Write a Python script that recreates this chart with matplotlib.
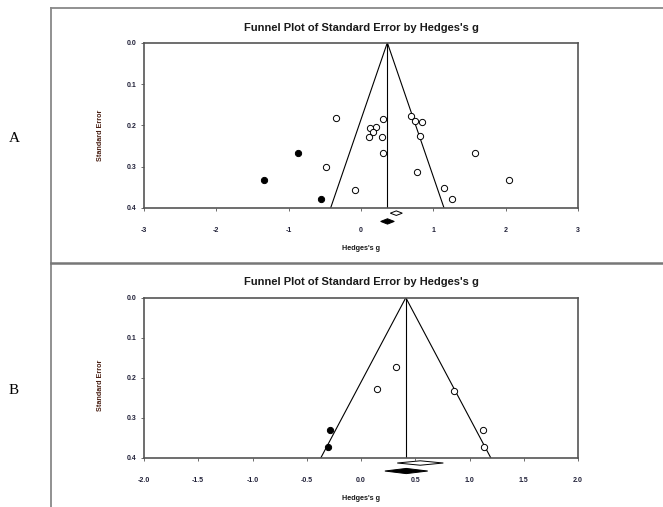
import numpy as np
import matplotlib
matplotlib.use("Agg")
import matplotlib.pyplot as plt
from matplotlib.lines import Line2D
from matplotlib.patches import Polygon

# Panel A: observed studies (open) and imputed studies (filled)
A_g_open = [-0.35, 0.31, 0.69, 0.74, 0.84, 0.21, 0.12, 0.17, 0.11, 0.29,
            0.82, 0.31, 1.58, -0.49, 0.78, 2.05, -0.08, 1.15, 1.26]
A_se_open = [0.183, 0.185, 0.177, 0.189, 0.192, 0.204, 0.207, 0.217, 0.229, 0.229,
             0.225, 0.267, 0.267, 0.300, 0.312, 0.333, 0.357, 0.352, 0.378]
A_g_fill = [-0.87, -1.34, -0.55]
A_se_fill = [0.267, 0.333, 0.378]
A_center = 0.364
A_obs_ci = [0.405, 0.488, 0.571]
A_adj_ci = [0.272, 0.366, 0.46]
A_xticks = [-3, -2, -1, 0, 1, 2, 3]

# Panel B
B_g_open = [0.32, 0.15, 0.86, 1.12, 1.13]
B_se_open = [0.173, 0.228, 0.232, 0.331, 0.372]
B_g_fill = [-0.29, -0.30]
B_se_fill = [0.331, 0.372]
B_center = 0.413
B_obs_ci = [0.334, 0.546, 0.759]
B_adj_ci = [0.22, 0.417, 0.615]
B_xticks = [-2.0, -1.5, -1.0, -0.5, 0.0, 0.5, 1.0, 1.5, 2.0]

yticks = [0.0, 0.1, 0.2, 0.3, 0.4]
title = "Funnel Plot of Standard Error by Hedges's g"

plt.rcParams['font.family'] = ['Liberation Sans', 'DejaVu Sans']
W, H = 663, 507
fig = plt.figure(figsize=(W / 100, H / 100), dpi=100)
fig.patch.set_facecolor('white')

tick_col = '#202038'


def px(x, y):
    return x / W, 1 - y / H


def diamond(ax, ci, y, h, filled):
    lo, mid, hi = ci
    pts = [(lo, y), (mid, y - h), (hi, y), (mid, y + h)]
    poly = Polygon(pts, closed=True, clip_on=False,
                   facecolor='black' if filled else 'white',
                   edgecolor='black', linewidth=0.7)
    ax.add_patch(poly)


def funnel(ax, g_open, se_open, g_fill, se_fill, center, obs_ci, adj_ci,
           xticks, xfmt, xlim):
    ax.set_xlim(*xlim)
    ax.set_ylim(0.4, 0.0)
    se = np.array([0.0, 0.4])
    ax.plot(center - 1.96 * se, se, color='black', lw=0.8)
    ax.plot(center + 1.96 * se, se, color='black', lw=0.8)
    ax.plot([center, center], [0, 0.4], color='black', lw=0.8)
    ax.plot(g_open, se_open, 'o', ms=4.5, mfc='white', mec='black', mew=0.7)
    ax.plot(g_fill, se_fill, 'o', ms=4.5, mfc='black', mec='black', mew=0.7)
    diamond(ax, obs_ci, 0.4125, 0.0055, False)
    diamond(ax, adj_ci, 0.4325, 0.0065, True)
    ax.set_xticks(xticks)
    ax.set_xticklabels([xfmt.format(t) for t in xticks])
    ax.set_yticks(yticks)
    ax.set_yticklabels(["{:.1f}".format(t) for t in yticks])
    ax.tick_params(axis='both', labelsize=5, length=2, width=0.6,
                   colors='#555555', labelcolor=tick_col)
    ax.tick_params(axis='x', pad=12)
    for lab in ax.get_xticklabels() + ax.get_yticklabels():
        lab.set_fontweight('bold')
    for s in ax.spines.values():
        s.set_color('#555555')
        s.set_linewidth(1.2)


# Panel A axes: x 144..578, y 42.7..208
axA = fig.add_axes([144 / W, 1 - 208 / H, 434 / W, 165.3 / H])
funnel(axA, A_g_open, A_se_open, A_g_fill, A_se_fill, A_center,
       A_obs_ci, A_adj_ci, A_xticks, "{:d}", (-3, 3))

# Panel B axes: x 144..578, y 297.7..458
axB = fig.add_axes([144 / W, 1 - 458 / H, 434 / W, 160.3 / H])
funnel(axB, B_g_open, B_se_open, B_g_fill, B_se_fill, B_center,
       B_obs_ci, B_adj_ci, B_xticks, "{:.1f}", (-2, 2))

# titles, axis labels
for ty, ly, yl, tag, tagy in [(28, 248, 135, "A", 138), (282, 499, 385, "B", 390)]:
    fig.text(*px(361, ty), title, ha='center', va='center',
             fontsize=8, fontweight='bold', color='#1a1a1a')
    fig.text(*px(361, ly), "Hedges's g", ha='center', va='center',
             fontsize=5.2, fontweight='bold', color='#1a1a1a')
    fig.text(*px(101, yl), "Standard Error", ha='center', va='center',
             rotation=90, fontsize=5.2, fontweight='bold', color='#4a2014')
    fig.text(*px(14, tagy), tag, ha='center', va='center',
             fontsize=11, family='Liberation Serif', color='black')

# outer frame lines
fig.add_artist(Line2D([51 / W, 51 / W], [1 - 8 / H, 0], color='#888888', lw=1.3))
fig.add_artist(Line2D([51 / W, 1], [1 - 8 / H, 1 - 8 / H], color='#888888', lw=1.3))
fig.add_artist(Line2D([51 / W, 1], [1 - 263 / H, 1 - 263 / H], color='#777777', lw=1.8))

fig.savefig("out.png", dpi=100, facecolor='white')
